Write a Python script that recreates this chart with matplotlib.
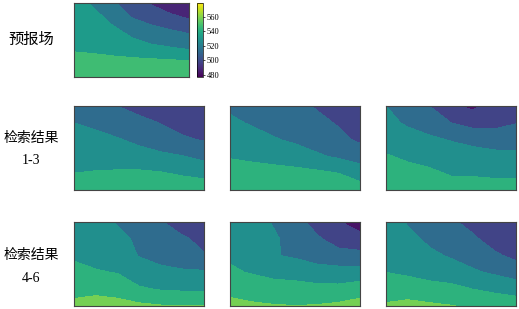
import numpy as np
import matplotlib
matplotlib.use("Agg")
import matplotlib.pyplot as plt
from matplotlib.colors import Normalize
from matplotlib.cm import ScalarMappable

# geopotential-like fields on a coarse grid, rows listed from north (top) to south (bottom)
forecast = [
    [532, 523, 512, 503, 494, 488, 485],
    [534, 529, 522, 510, 503, 498, 494],
    [535, 532, 528, 523, 518, 513, 509],
    [537, 535, 532, 529, 527, 525.3, 522],
    [547, 547, 546, 545, 544, 543, 542],
    [550, 550, 549, 548, 548, 547, 547],
]

result_1 = [
    [515, 511, 505, 500, 497, 495, 494],
    [520, 517, 513, 509, 504.5, 500, 497],
    [526, 524, 521, 517, 512, 507, 504],
    [531, 529, 527, 525, 523, 520.5, 516],
    [535, 536, 537, 537.5, 536, 533, 530],
    [545, 545, 546, 546, 545, 545, 545],
]

result_2 = [
    [518, 515, 512, 508, 504, 500, 497],
    [522, 519, 516, 512, 508, 504, 500],
    [527, 524, 521, 518, 514, 508, 503],
    [534, 532, 529, 526, 522, 518, 512],
    [541, 541, 541, 540, 538, 535, 530],
    [546, 546, 545, 544, 543, 541, 540],
]

result_3 = [
    [520, 512, 505, 492, 487, 495, 500],
    [524, 518, 512, 505, 500, 501, 504.5],
    [529, 526, 523, 519, 515, 512, 512],
    [536, 533, 531, 529, 527, 525, 524],
    [541, 539, 537, 534, 533, 531, 530],
    [546, 545, 544, 540, 543, 544, 545],
]

result_4 = [
    [530, 525, 519, 513, 506, 498, 489],
    [532, 528, 523, 518, 513, 507, 501],
    [534, 531, 526, 519.5, 516, 512, 506],
    [537, 536, 534.5, 526, 523, 522, 522],
    [545, 545, 543, 537, 534, 533, 532],
    [554, 558, 556, 553, 551, 550.5, 551],
]

result_5 = [
    [530, 525, 519, 510, 500, 491, 484],
    [531, 527, 522, 515, 507, 499, 494],
    [533, 529, 521, 518, 513, 510, 510],
    [537, 534, 531, 530, 527, 526, 526],
    [547, 544, 541, 540, 539, 539, 543],
    [553, 552, 551, 550.3, 551, 553, 556],
]

result_6 = [
    [526, 519, 513, 507, 501, 496, 489.5],
    [528, 523, 518, 513, 507, 500, 495],
    [531, 527, 522, 519, 514, 507, 502],
    [535, 532, 528, 525, 522, 518, 512],
    [546, 545, 542, 540, 535, 532, 530],
    [551, 553, 552, 550.5, 548, 545, 542],
]

forecast_levels = [465, 480, 495, 510, 525, 540, 555]
result_levels = [475, 490, 505, 520, 535, 550, 565]
cbar_ticks = [480, 500, 520, 540, 560]
vmin, vmax = 477, 579

label_font = ["Liberation Serif", "Noto Sans CJK SC"]

W, H = 519, 309
fig = plt.figure(figsize=(W / 100, H / 100), dpi=100)
norm = Normalize(vmin=vmin, vmax=vmax)


def px_axes(x0, y0, x1, y1):
    # axes from pixel box (top-left origin)
    return fig.add_axes([x0 / W, 1 - y1 / H, (x1 - x0) / W, (y1 - y0) / H])


def draw_field(ax, field, levels):
    z = np.array(field, dtype=float)
    ny, nx = z.shape
    x = np.linspace(0, 1, nx)
    y = np.linspace(1, 0, ny)
    ax.contourf(x, y, z, levels=levels, cmap="viridis", norm=norm)
    ax.set_xlim(0, 1)
    ax.set_ylim(0, 1)
    ax.set_xticks([])
    ax.set_yticks([])
    for s in ax.spines.values():
        s.set_color("#444444")
        s.set_linewidth(0.8)


ax0 = px_axes(74, 3, 189, 77)
draw_field(ax0, forecast, forecast_levels)

cax = px_axes(197, 3, 203, 77)
cb = fig.colorbar(ScalarMappable(norm=norm, cmap="viridis"), cax=cax, ticks=cbar_ticks)
cb.ax.tick_params(labelsize=6, length=1.5, width=0.5, pad=1)
for t in cb.ax.get_yticklabels():
    t.set_family("Liberation Serif")
cb.outline.set_linewidth(0.5)

fields = [result_1, result_2, result_3, result_4, result_5, result_6]
lefts = [74, 230, 386]
rows = [(106, 190), (222, 306)]
for i, f in enumerate(fields):
    top, bot = rows[i // 3]
    left = lefts[i % 3]
    ax = px_axes(left, top, left + 130, bot)
    draw_field(ax, f, result_levels)

fig.text(31 / W, 1 - 40 / H, "预报场", ha="center", va="center", fontsize=11, family=label_font)
fig.text(31 / W, 1 - 138 / H, "检索结果", ha="center", va="center", fontsize=10, family=label_font)
fig.text(31 / W, 1 - 161 / H, "1-3", ha="center", va="center", fontsize=10, family=label_font)
fig.text(31 / W, 1 - 255 / H, "检索结果", ha="center", va="center", fontsize=10, family=label_font)
fig.text(31 / W, 1 - 278 / H, "4-6", ha="center", va="center", fontsize=10, family=label_font)

fig.savefig("out.png", dpi=100)
